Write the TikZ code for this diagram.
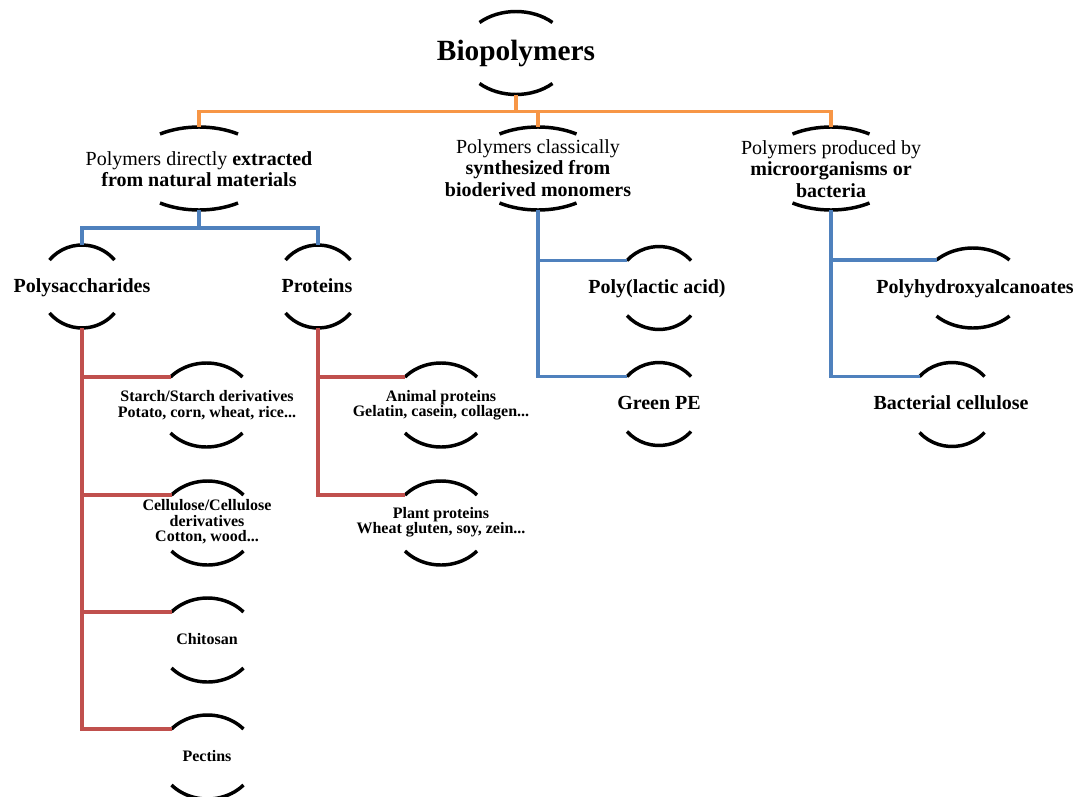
\documentclass[tikz,border=0pt]{standalone}
\usepackage{fontspec}
\setmainfont{Liberation Serif}
\usetikzlibrary{calc}
\definecolor{orangeline}{RGB}{247,150,70}
\definecolor{blueline}{RGB}{79,129,189}
\definecolor{redline}{RGB}{192,80,77}

% pair of arcs round a label: half width, half height, sag
\tikzset{
  rim/.style={draw=black, line width=2.6pt},
  pics/rims/.style n args={3}{code={
    \pgfmathsetmacro\rimt{acos(1-#3/#2)}
    \pgfmathsetmacro\rima{#1/sin(\rimt)}
    \coordinate (-top) at (0,-#2);
    \coordinate (-bot) at (0,#2);
    \coordinate (-left) at (-#1,#3-#2);
    \draw[rim] (-#1,#3-#2) arc[start angle=90+\rimt, end angle=90-\rimt, x radius=\rima*0.75pt, y radius=#2*0.75pt];
    \draw[rim] (-#1,#2-#3) arc[start angle=270-\rimt, end angle=270+\rimt, x radius=\rima*0.75pt, y radius=#2*0.75pt];
  }}
}

\begin{document}
\begin{tikzpicture}[x=0.75pt, y=-0.75pt,
  headtext/.style={inner sep=0pt, font=\fontsize{22}{26}\selectfont\bfseries},
  midtext/.style={inner sep=0pt, align=center, font=\fontsize{15}{16}\selectfont},
  subtext/.style={inner sep=0pt, text height=11pt, text depth=3.5pt, font=\fontsize{15}{18}\selectfont\bfseries},
  leaftext/.style={inner sep=0pt, align=center, font=\fontsize{12}{11.6}\selectfont\bfseries},
  orgline/.style={draw=orangeline, line width=2.5pt},
  bluline/.style={draw=blueline, line width=2.5pt},
  redl/.style={draw=redline, line width=2.5pt}]
\useasboundingbox (0,0) rectangle (1077,796);

% root
\node[headtext] (bio) at (516,53) {Biopolymers};
\pic (bio) at (516,53) {rims={36.5}{41.5}{11}};

% second level
\node[midtext] (nat) at (199,169) {Polymers directly \textbf{extracted}\\\textbf{from natural materials}};
\node[midtext] (syn) at (538,168) {Polymers classically\\\textbf{synthesized from}\\\textbf{bioderived monomers}};
\node[midtext] (mic) at (831,169) {Polymers produced by\\\textbf{microorganisms or}\\\textbf{bacteria}};
\pic (nat) at (199,168.5) {rims={39}{41.5}{7}};
\pic (syn) at (538,168.5) {rims={38.5}{41.5}{7}};
\pic (mic) at (831,168.5) {rims={38.5}{41.5}{7}};

% third level
\node[subtext] (psac) at (82,287) {Polysaccharides};
\node[subtext] (prot) at (317,287) {Proteins};
\node[subtext] (pla) at (657,288) {Poly(lactic acid)};
\node[subtext] (gpe) at (659,404) {Green PE};
\node[subtext] (pha) at (975,288) {Polyhydroxyalcanoates};
\node[subtext] (bc) at (951,404) {Bacterial cellulose};
\pic (psac) at (82,286.5) {rims={32.5}{41.5}{15}};
\pic (prot) at (318,286.5) {rims={32.5}{41.5}{15}};
\pic (pla) at (659,288) {rims={32}{41.5}{14}};
\pic (gpe) at (659,404) {rims={32}{41.5}{14}};
\pic (pha) at (973,288) {rims={36.5}{40}{12}};
\pic (bc) at (952,404.5) {rims={32.5}{42}{14}};

% leaves
\node[leaftext] (starch) at (207,405) {Starch/Starch derivatives\\Potato, corn, wheat, rice...};
\node[leaftext] (cell) at (207,522) {Cellulose/Cellulose\\derivatives\\Cotton, wood...};
\node[leaftext] (chit) at (207,639) {Chitosan};
\node[leaftext] (pect) at (207,756) {Pectins};
\node[leaftext] (anim) at (441,405) {Animal proteins\\Gelatin, casein, collagen...};
\node[leaftext] (plant) at (441,522) {Plant proteins\\Wheat gluten, soy, zein...};
\foreach \n/\x/\y in {starch/206.5/405, cell/207.5/523, chit/207.5/640, pect/207.5/757, anim/441/405, plant/441/523}
  \pic (\n) at (\x,\y) {rims={36}{42}{14}};

% connectors
\draw[orgline] (bio-bot) -- ++(0,17) coordinate (oj);
\draw[orgline] (nat-top) |- (oj) -| (mic-top);
\draw[orgline] (oj) -| (syn-top);

\draw[bluline] (nat-bot) -- ++(0,18) coordinate (bj);
\draw[bluline] (psac-top) |- (bj) -| (prot-top);
\draw[bluline] (syn-bot) |- (pla-left) (syn-bot) |- (gpe-left);
\draw[bluline] (mic-bot) |- (pha-left) (mic-bot) |- (bc-left);

\foreach \n in {starch,cell,chit,pect}
  \draw[redl] (psac-bot) |- (\n-left);
\foreach \n in {anim,plant}
  \draw[redl] (prot-bot) |- (\n-left);
\end{tikzpicture}
\end{document}
